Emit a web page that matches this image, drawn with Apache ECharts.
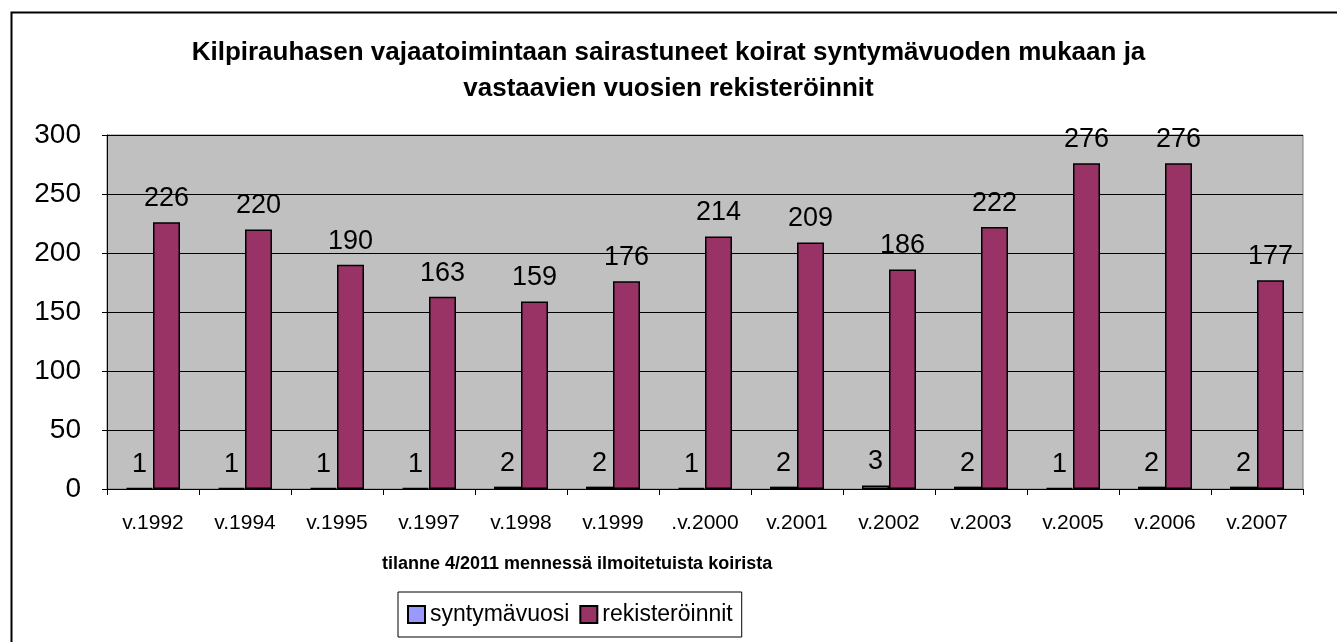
<!DOCTYPE html>
<html>
<head>
<meta charset="utf-8">
<script src="https://cdn.jsdelivr.net/npm/echarts@6/dist/echarts.min.js"></script>
<style>
  html, body { margin: 0; padding: 0; background: #fff; }
  #main { width: 1337px; height: 642px; }
</style>
</head>
<body>
<div id="main"></div>
<script>
// vuodet ja arvot
const categories = ['v.1992', 'v.1994', 'v.1995', 'v.1997', 'v.1998', 'v.1999', '.v.2000', 'v.2001', 'v.2002', 'v.2003', 'v.2005', 'v.2006', 'v.2007'];
const syntymavuosi = [1, 1, 1, 1, 2, 2, 1, 2, 3, 2, 1, 2, 2];
const rekisteroinnit = [226, 220, 190, 163, 159, 176, 214, 209, 186, 222, 276, 276, 177];
const yTicks = [0, 50, 100, 150, 200, 250, 300];

const FONT = '"Liberation Sans", Arial, sans-serif';

const chart = echarts.init(document.getElementById('main'), null, { renderer: 'canvas' });

const labelStyle = {
  show: true,
  position: 'top',
  distance: 10,
  fontSize: 27,
  color: '#000',
  fontFamily: FONT
};

chart.setOption({
  backgroundColor: '#fff',
  animation: false,
  textStyle: { fontFamily: FONT },
  title: {
    text: 'Kilpirauhasen vajaatoimintaan sairastuneet koirat syntymävuoden mukaan ja\nvastaavien vuosien rekisteröinnit',
    left: 'center',
    top: 30,
    textStyle: { fontSize: 26, fontWeight: 'bold', color: '#000', lineHeight: 36, fontFamily: FONT }
  },
  legend: {
    left: 398,
    top: 592,
    orient: 'horizontal',
    borderColor: '#000',
    borderWidth: 1,
    padding: [11, 9, 11, 9],
    itemWidth: 17,
    itemHeight: 17,
    itemGap: 10,
    icon: 'rect',
    textStyle: { fontSize: 23, color: '#000', fontFamily: FONT, padding: [0, 0, 0, 0] },
    data: ['syntymävuosi', 'rekisteröinnit']
  },
  grid: {
    left: 107,
    right: 34,
    top: 135,
    bottom: 153,
    show: true,
    backgroundColor: '#C0C0C0',
    borderColor: '#808080',
    borderWidth: 1
  },
  xAxis: {
    type: 'category',
    data: categories,
    axisLine: { lineStyle: { color: '#000', width: 1 } },
    axisTick: { show: true, length: 6, lineStyle: { color: '#000' } },
    axisLabel: { fontSize: 21, color: '#000', margin: 24, interval: 0, fontFamily: FONT }
  },
  yAxis: {
    type: 'value',
    min: yTicks[0],
    max: yTicks[yTicks.length - 1],
    interval: 50,
    axisLine: { show: true, lineStyle: { color: '#000', width: 1 } },
    axisTick: { show: true, length: 5, lineStyle: { color: '#000' } },
    axisLabel: { fontSize: 28, color: '#000', margin: 26, fontFamily: FONT },
    splitLine: { show: true, lineStyle: { color: '#000', width: 1 } }
  },
  series: [
    {
      name: 'syntymävuosi',
      type: 'bar',
      data: syntymavuosi,
      barWidth: 27,
      barGap: '0%',
      itemStyle: { color: '#9999FF', borderColor: '#000', borderWidth: 1.5 },
      label: labelStyle
    },
    {
      name: 'rekisteröinnit',
      type: 'bar',
      data: rekisteroinnit,
      barWidth: 27,
      barGap: '0%',
      itemStyle: { color: '#993366', borderColor: '#000', borderWidth: 1.5 },
      label: labelStyle
    }
  ],
  graphic: [
    {
      type: 'rect',
      left: 9,
      top: 10,
      shape: { width: 1400, height: 700 },
      style: { fill: 'none', stroke: '#000', lineWidth: 2 },
      silent: true,
      z: -1
    },
    {
      type: 'text',
      left: 382,
      top: 555,
      style: {
        text: 'tilanne 4/2011 mennessä ilmoitetuista koirista',
        fill: '#000',
        font: 'bold 18px ' + FONT
      }
    }
  ]
});
</script>
</body>
</html>
